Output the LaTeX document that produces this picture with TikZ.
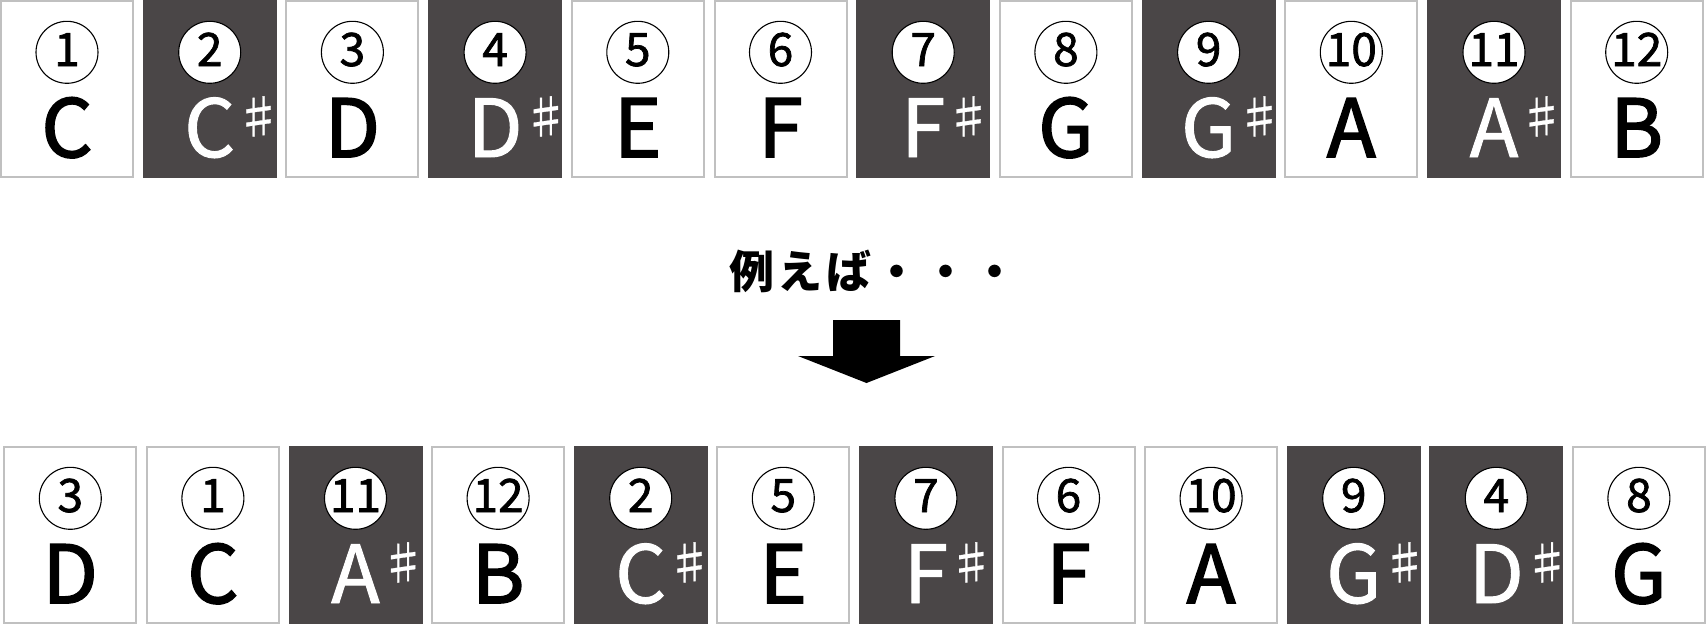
\documentclass[tikz,border=0pt]{standalone}
\usepackage{fontspec}
\setmainfont{Noto Sans CJK JP}
\newfontfamily\blackletfont{Noto Sans CJK JP}[FakeBold=2.2]
\newfontfamily\whiteletfont{Noto Sans CJK JP}[FakeBold=1.2]
\newfontfamily\numfont{Noto Sans CJK JP}[FakeBold=1.6]
\newfontfamily\sharpfont{Noto Sans CJK JP}[FakeBold=0.6]
\definecolor{darkfill}{RGB}{74,70,71}
\definecolor{boxgray}{RGB}{192,192,192}
\tikzset{
  box0/.style={draw=boxgray, line width=2pt, fill=white, minimum width=132pt, minimum height=176pt, inner sep=0pt},
  box1/.style={draw=darkfill, line width=2pt, fill=darkfill, minimum width=132pt, minimum height=176pt, inner sep=0pt},
  numcirc/.style={circle, draw=black, line width=1.1pt, fill=white, minimum size=62pt, inner sep=0pt},
  numtext/.style={inner sep=0pt, anchor=base, font=\numfont\fontsize{46}{46}\selectfont},
  let0/.style={inner sep=0pt, anchor=base, text=black, font=\blackletfont\fontsize{80}{80}\selectfont},
  let1/.style={inner sep=0pt, anchor=base, text=white, font=\whiteletfont\fontsize{80}{80}\selectfont},
  sharpsign/.style={inner sep=0pt, anchor=base west, text=white, xshift=0pt, yshift=23pt, font=\sharpfont\fontsize{46}{46}\selectfont},
  midtext/.style={inner sep=0pt, anchor=base west, font=\fontsize{45}{45}\selectfont\bfseries\addfontfeatures{LetterSpace=8}},
  bigarrow/.style={fill=black, draw=none}
}
\begin{document}
\begin{tikzpicture}[x=1pt,y=-1pt]
\useasboundingbox (0,0) rectangle (1706,625);
% top row
\foreach \n/\l/\s [count=\i from 0] in {1/C/0,2/C/1,3/D/0,4/D/1,5/E/0,6/F/0,7/F/1,8/G/0,9/G/1,10/A/0,11/A/1,12/B/0} {
  \pgfmathsetmacro\cx{67+\i*142.7}
  \node[style=box\s] (tb\i) at (\cx,89) {};
  \node[numcirc] (tc\i) at (\cx,52.3) {};
  \node[numtext] (tn\i) at (\cx,66) {\n};
  \node[style=let\s] (tl\i) at (\cx,157) {\l};
  \ifnum\s=1 \node[sharpsign] (ts\i) at (tl\i.base east) {♯};\fi
}
% middle
\node[midtext] (mid) at (729,288.5) {例えば・・・};
\fill[bigarrow] (833,320) -- (900,320) -- (900,356) -- (935,356) -- (866.5,383) -- (798,356) -- (833,356) -- cycle;
% bottom row
\foreach \n/\l/\s [count=\i from 0] in {3/D/0,1/C/0,11/A/1,12/B/0,2/C/1,5/E/0,7/F/1,6/F/0,10/A/0,9/G/1,4/D/1,8/G/0} {
  \pgfmathsetmacro\cx{70.3+\i*142.6}
  \node[style=box\s] (bb\i) at (\cx,535) {};
  \node[numcirc] (bc\i) at (\cx,498.3) {};
  \node[numtext] (bn\i) at (\cx,512) {\n};
  \node[style=let\s] (bl\i) at (\cx,603) {\l};
  \ifnum\s=1 \node[sharpsign] (bs\i) at (bl\i.base east) {♯};\fi
}
\end{tikzpicture}
\end{document}
